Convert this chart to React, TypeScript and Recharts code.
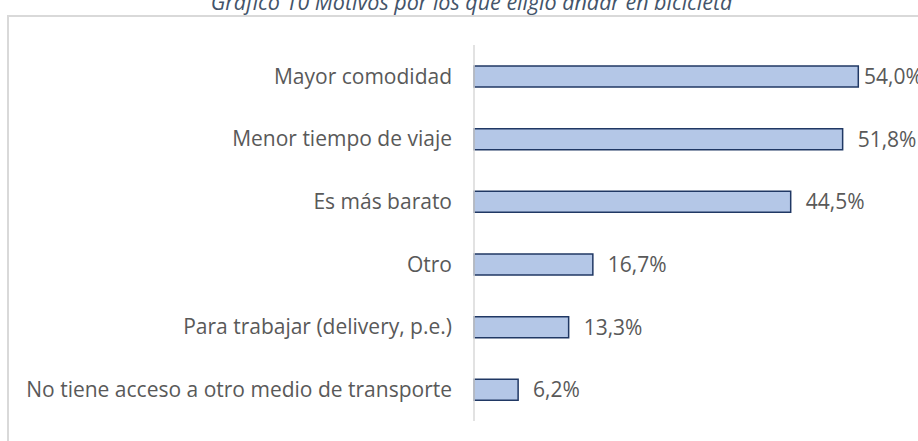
import React from 'react';
import { BarChart, Bar, XAxis, YAxis, LabelList } from 'recharts';

const categories = [
  'Mayor comodidad',
  'Menor tiempo de viaje',
  'Es más barato',
  'Otro',
  'Para trabajar (delivery, p.e.)',
  'No tiene acceso a otro medio de transporte',
];
const values = [54.0, 51.8, 44.5, 16.7, 13.3, 6.2];
const titleText = 'Gráfico 10 Motivos por los que eligió andar en bicicleta';

const data = categories.map((name, i) => ({ name, value: values[i] }));

const FONT = "'Open Sans', sans-serif";

const renderLabel = (props: any) => {
  const { x, y, width, height, value } = props;
  const bx = Number(x) + Number(width);
  const tx = Math.min(bx + 15, 864);
  const ty = Number(y) + Number(height) / 2;
  return (
    <text
      x={tx}
      y={ty}
      dy="0.355em"
      textAnchor="start"
      fill="#595959"
      fontSize={21}
      fontFamily={FONT}
    >
      {Number(value).toFixed(1).replace('.', ',') + '%'}
    </text>
  );
};

export default function App() {
  return (
    <div
      style={{
        position: 'absolute',
        left: 0,
        top: 0,
        width: 918,
        height: 441,
        overflow: 'hidden',
        background: '#ffffff',
      }}
    >
      <div
        style={{
          position: 'absolute',
          left: 7,
          top: 15,
          width: 1000,
          height: 1000,
          border: '2px solid #D9D9D9',
          boxSizing: 'border-box',
        }}
      />
      <svg
        width={918}
        height={30}
        style={{ position: 'absolute', left: 0, top: 0 }}
      >
        <text
          x={471.5}
          y={9.5}
          textAnchor="middle"
          fontStyle="italic"
          fontSize={21.5}
          fontFamily={FONT}
          fill="#44546A"
        >
          {titleText}
        </text>
      </svg>
      <div style={{ position: 'absolute', left: 0, top: 0 }}>
        <BarChart
          width={918}
          height={441}
          data={data}
          layout="vertical"
          margin={{ top: 45, right: 17, bottom: 20, left: 0 }}
        >
          <XAxis type="number" domain={[0, 60]} hide />
          <YAxis
            type="category"
            dataKey="name"
            width={474}
            interval={0}
            axisLine={{ stroke: '#D9D9D9', strokeWidth: 1.5 }}
            tickLine={false}
            tickSize={20}
            tickMargin={2}
            tick={{ fill: '#595959', fontSize: 21, fontFamily: FONT }}
          />
          <Bar
            dataKey="value"
            fill="#B4C7E7"
            stroke="#203864"
            strokeWidth={1.5}
            barSize={21}
            isAnimationActive={false}
          >
            <LabelList dataKey="value" content={renderLabel} />
          </Bar>
        </BarChart>
      </div>
    </div>
  );
}
